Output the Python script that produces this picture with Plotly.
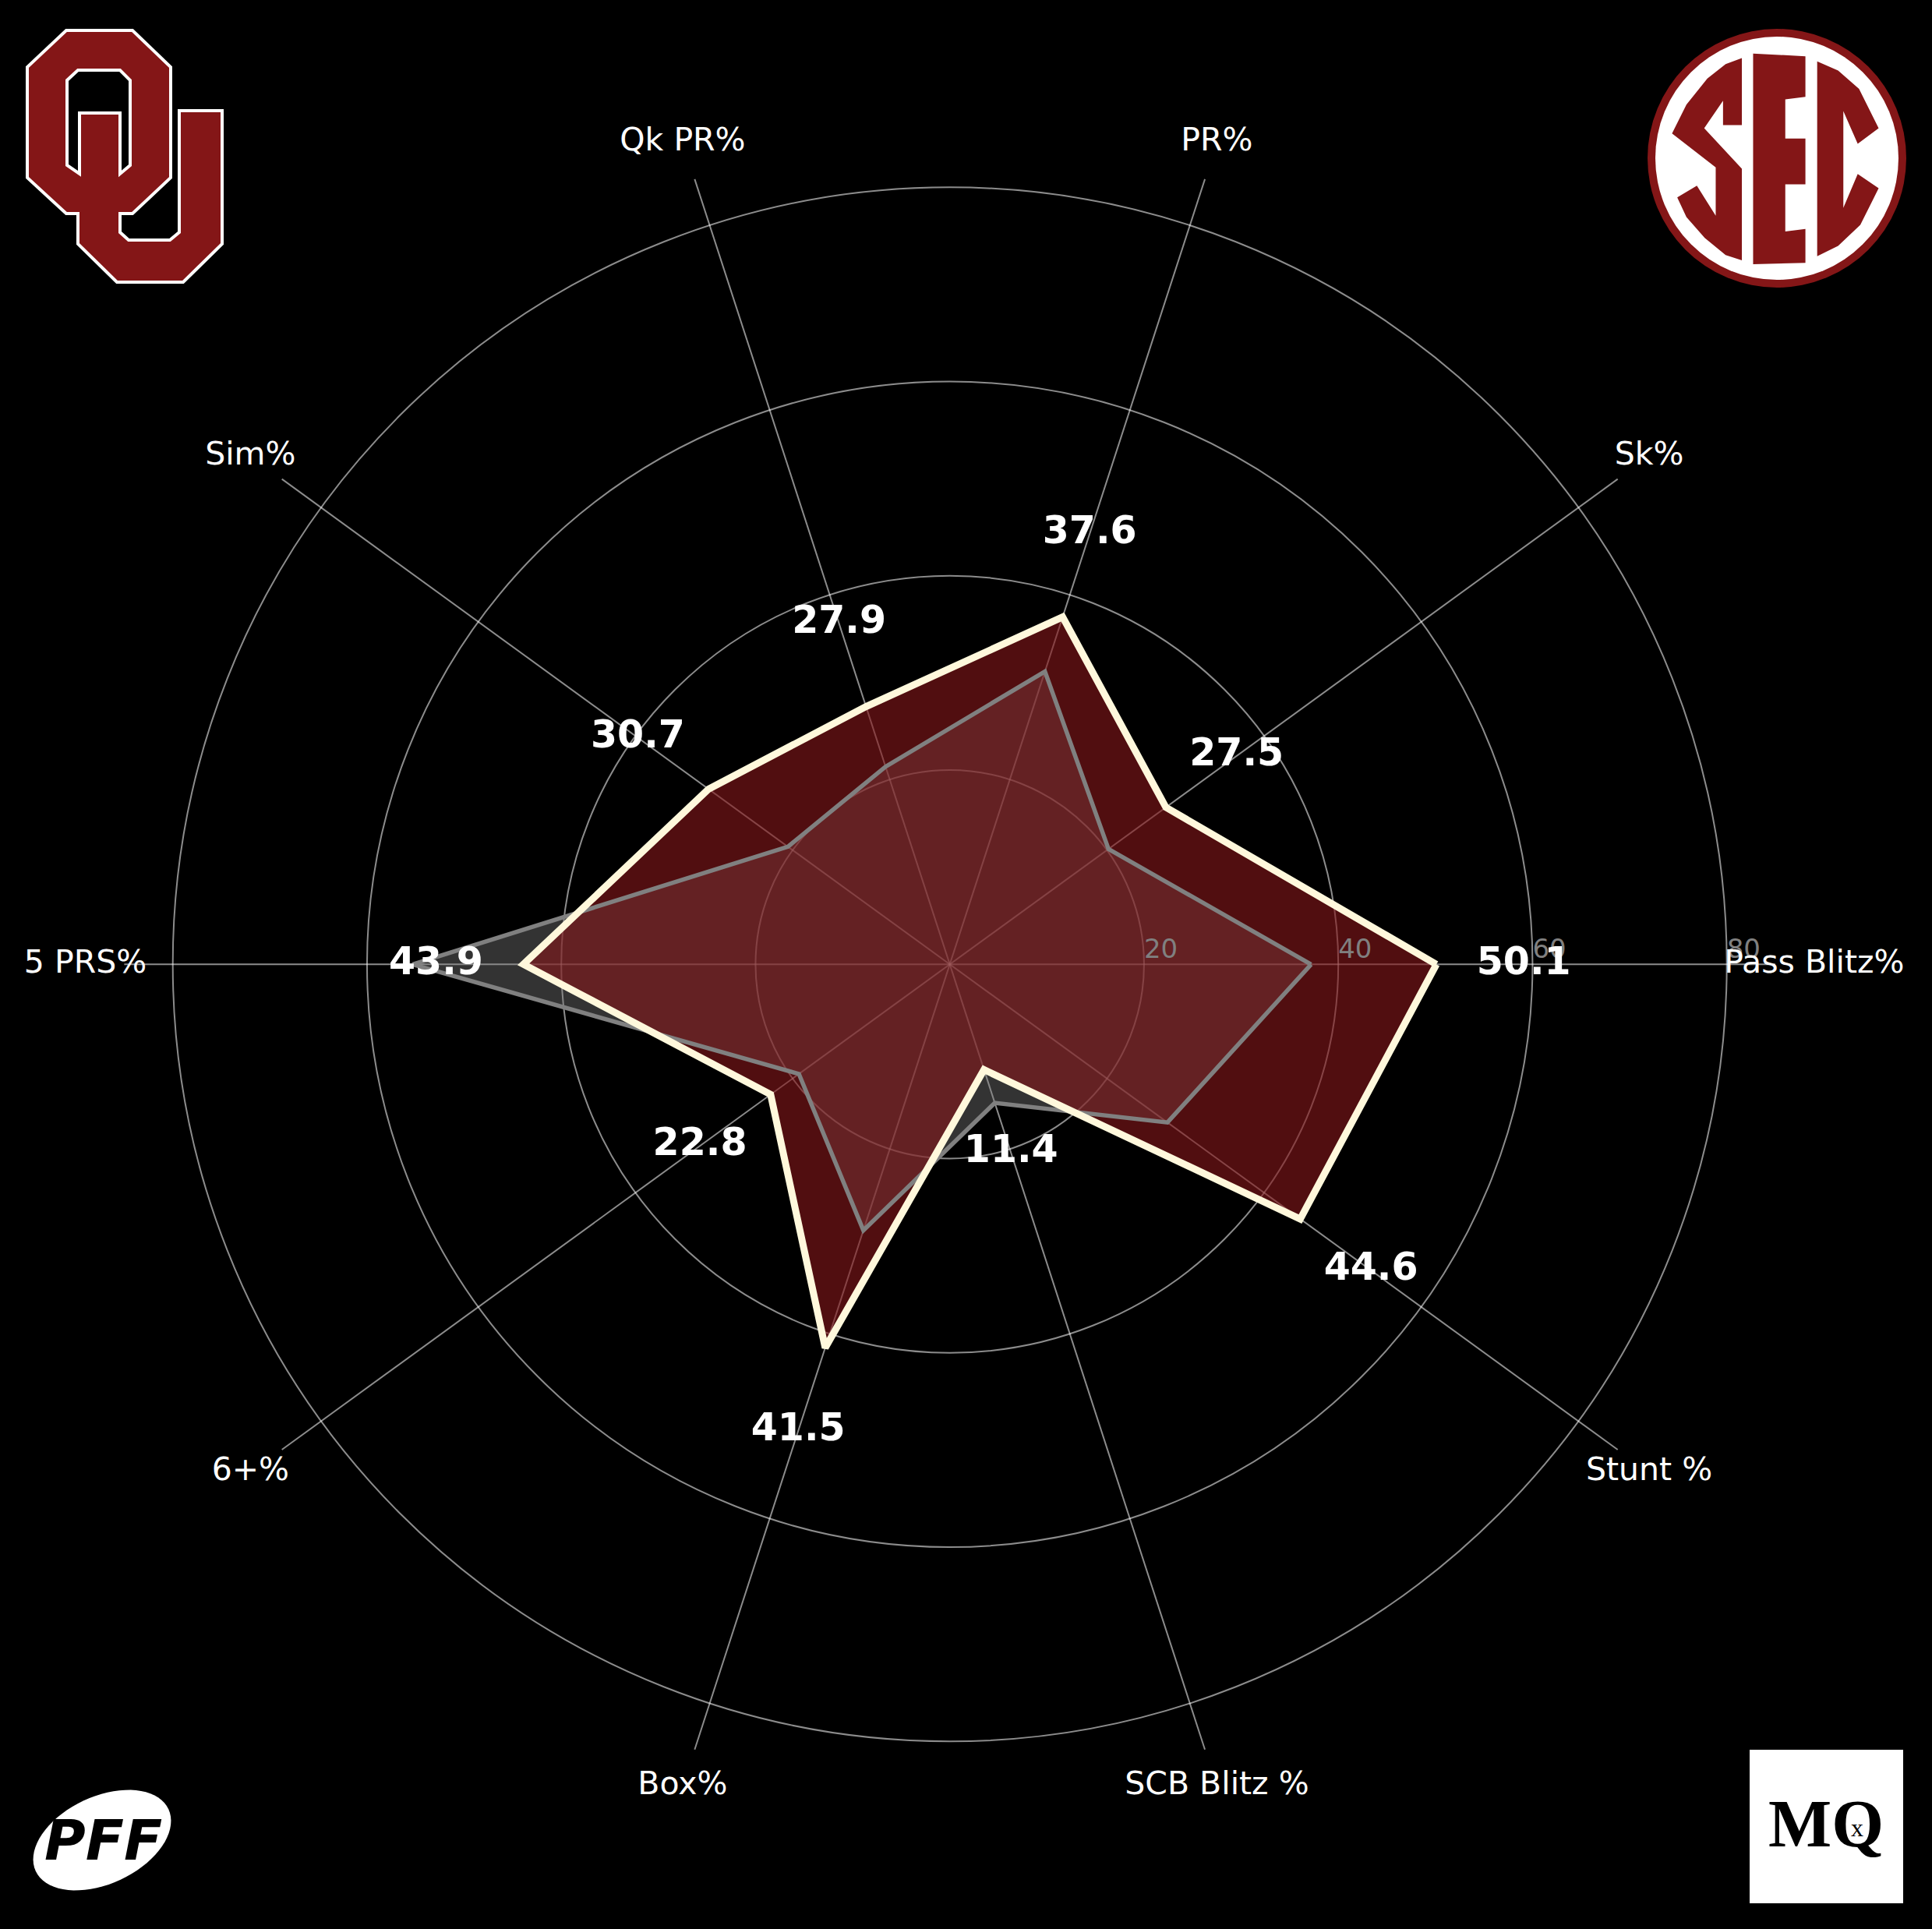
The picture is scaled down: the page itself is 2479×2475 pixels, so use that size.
import math
import plotly.graph_objects as go

W, H = 2479, 2475

categories = ["Pass Blitz%", "Sk%", "PR%", "Qk PR%", "Sim%", "5 PRS%",
              "6+%", "Box%", "SCB Blitz %", "Stunt %"]
ou_values = [50.1, 27.5, 37.6, 27.9, 30.7, 43.9, 22.8, 41.5, 11.4, 44.6]
sec_values = [37.2, 20.2, 31.7, 21.4, 20.6, 55.3, 19.2, 28.8, 15.0, 27.7]
radial_ticks = [20, 40, 60, 80]
radial_tick_labels = ["20", "40", "60", "80"]

R_MAX = 85        # radial extent of the grid polar
R_MAX_TOP = 95    # radial extent of the overlay polar (same scale, larger frame)
LABEL_R = 89
VALUE_OFFSET = 9

OU_RED = "#841617"
CREAM = "#FFF8DC"
GRID = "rgba(255,255,255,0.55)"


def px(x, y):
    return x / W, 1 - y / H


def closed(vals):
    return list(vals) + [vals[0]]


cats_closed = closed(categories)

fig = go.Figure()

# --- fills (polar 1, grid drawn above) ---
fig.add_trace(go.Scatterpolar(
    r=closed(sec_values), theta=cats_closed, mode="lines", fill="toself",
    fillcolor="rgba(128,128,128,0.4)", line=dict(width=0, color="rgba(0,0,0,0)"),
    hoverinfo="skip", showlegend=False, subplot="polar"))
fig.add_trace(go.Scatterpolar(
    r=closed(ou_values), theta=cats_closed, mode="lines", fill="toself",
    fillcolor="rgba(132,23,26,0.61)", line=dict(width=0, color="rgba(0,0,0,0)"),
    hoverinfo="skip", showlegend=False, subplot="polar"))

# --- lines and text (polar 2, on top) ---
fig.add_trace(go.Scatterpolar(
    r=radial_ticks, theta=[categories[0]] * len(radial_ticks), mode="text",
    text=radial_tick_labels, textposition="top right",
    textfont=dict(family="DejaVu Sans", size=34, color="#808080"),
    hoverinfo="skip", showlegend=False, subplot="polar2", cliponaxis=False))
fig.add_trace(go.Scatterpolar(
    r=closed(sec_values), theta=cats_closed, mode="lines",
    line=dict(width=5.5, color="#808080"),
    hoverinfo="skip", showlegend=False, subplot="polar2"))
fig.add_trace(go.Scatterpolar(
    r=closed(ou_values), theta=cats_closed, mode="lines",
    line=dict(width=9, color=CREAM),
    hoverinfo="skip", showlegend=False, subplot="polar2"))
fig.add_trace(go.Scatterpolar(
    r=[v + VALUE_OFFSET for v in ou_values], theta=categories, mode="text",
    text=[f"{v:.1f}" for v in ou_values], textposition="middle center",
    textfont=dict(family="DejaVu Sans", size=49, color="white", weight="bold"),
    hoverinfo="skip", showlegend=False, subplot="polar2", cliponaxis=False))
fig.add_trace(go.Scatterpolar(
    r=[LABEL_R] * len(categories), theta=categories, mode="text",
    text=categories, textposition="middle center",
    textfont=dict(family="DejaVu Sans", size=41, color="white"),
    hoverinfo="skip", showlegend=False, subplot="polar2", cliponaxis=False))

cx, cy = 1218.7, 1237.3
scale = 997 / 80.0
rad1 = scale * R_MAX
rad2 = scale * R_MAX_TOP
dom1 = dict(x=[(cx - rad1) / W, (cx + rad1) / W], y=[1 - (cy + rad1) / H, 1 - (cy - rad1) / H])
dom2 = dict(x=[(cx - rad2) / W, (cx + rad2) / W], y=[1 - (cy + rad2) / H, 1 - (cy - rad2) / H])

common_ang = dict(type="category", categoryorder="array", categoryarray=categories,
                  rotation=0, direction="counterclockwise")

fig.update_layout(
    width=W, height=H,
    margin=dict(l=0, r=0, t=0, b=0),
    paper_bgcolor="black", plot_bgcolor="black",
    showlegend=False,
    polar=dict(
        domain=dom1,
        bgcolor="black",
        radialaxis=dict(range=[0, R_MAX], tickvals=radial_ticks, showticklabels=False,
                        ticks="", showline=False, gridcolor=GRID, gridwidth=1.6,
                        layer="above traces"),
        angularaxis=dict(**common_ang, showticklabels=False, ticks="", showline=False,
                         gridcolor=GRID, gridwidth=1.6, layer="above traces"),
    ),
    polar2=dict(
        domain=dom2,
        bgcolor="rgba(0,0,0,0)",
        radialaxis=dict(range=[0, R_MAX_TOP], visible=False, showgrid=False),
        angularaxis=dict(**common_ang, visible=False, showgrid=False),
    ),
)

shapes = []

# ---- OU logo ----
ou_outer = [(85, 39), (170, 39), (219, 86), (219, 228), (170, 274), (154, 274),
            (154, 298), (165, 308), (218, 308), (230, 298), (230, 142), (285, 142),
            (285, 313), (235, 362), (150, 362), (100, 313), (100, 274), (85, 274),
            (35, 228), (35, 86)]
ou_hole = [(86, 103), (100, 90), (154, 90), (167, 103), (167, 212), (154, 223),
           (154, 145), (102, 145), (102, 223), (86, 212)]


def path_of(pts):
    s = ""
    for i, (x, y) in enumerate(pts):
        xp, yp = px(x, y)
        s += ("M" if i == 0 else "L") + f"{xp:.5f},{yp:.5f} "
    return s + "Z"


shapes.append(dict(type="path", xref="paper", yref="paper", path=path_of(ou_outer),
                   fillcolor=OU_RED, line=dict(color="white", width=4)))
shapes.append(dict(type="path", xref="paper", yref="paper", path=path_of(ou_hole),
                   fillcolor="black", line=dict(color="white", width=4)))

# ---- SEC logo ----
scx, scy = 2280, 203
for rr, col in [(166, "#841617"), (156, "white")]:
    x0, y0 = px(scx - rr, scy + rr)
    x1, y1 = px(scx + rr, scy - rr)
    shapes.append(dict(type="circle", xref="paper", yref="paper", x0=x0, y0=y0,
                       x1=x1, y1=y1, fillcolor=col, line=dict(width=0)))


def sec_pts(pts):
    return [(2080 + X / 2.98, Y / 2.98) for X, Y in pts]


S_pts = [(462, 222), (462, 478), (390, 478), (390, 385), (318, 490), (462, 645),
         (462, 995), (400, 975), (320, 910), (250, 830), (215, 755), (290, 710),
         (362, 825), (362, 640), (195, 510), (250, 400), (330, 300), (400, 245)]
E_pts = [(505, 205), (705, 215), (705, 370), (628, 380), (628, 530), (705, 530),
         (705, 705), (628, 705), (628, 885), (705, 875), (705, 1005), (505, 1010)]
C_pts = [(750, 235), (830, 270), (910, 340), (985, 490), (905, 550), (850, 425),
         (850, 795), (905, 665), (985, 720), (915, 860), (830, 940), (750, 980)]
for pts in (S_pts, E_pts, C_pts):
    shapes.append(dict(type="path", xref="paper", yref="paper",
                       path=path_of(sec_pts(pts)), fillcolor="#841617",
                       line=dict(width=0)))

# ---- PFF logo (football shape) ----
ecx, ecy, ea, eb, th = 131, 2361, 94, 56, math.radians(25)
ell = []
for k in range(72):
    t = 2 * math.pi * k / 72
    ex, ey = ea * math.cos(t), eb * math.sin(t)
    ell.append((ecx + ex * math.cos(th) + ey * math.sin(th),
                ecy - ex * math.sin(th) + ey * math.cos(th)))
shapes.append(dict(type="path", xref="paper", yref="paper", path=path_of(ell),
                   fillcolor="white", line=dict(width=0)))

# ---- MQ logo ----
x0, y0 = px(2245, 2442)
x1, y1 = px(2442, 2245)
shapes.append(dict(type="rect", xref="paper", yref="paper", x0=x0, y0=y0, x1=x1, y1=y1,
                   fillcolor="white", line=dict(width=0)))

annotations = []
ax, ay = px(132, 2361)
annotations.append(dict(x=ax, y=ay, xref="paper", yref="paper", text="PFF",
                        showarrow=False, xanchor="center", yanchor="middle",
                        font=dict(family="DejaVu Sans", size=72, color="black",
                                  weight="bold", style="italic")))
ax, ay = px(2343, 2340)
annotations.append(dict(x=ax, y=ay, xref="paper", yref="paper", text="MQ",
                        showarrow=False, xanchor="center", yanchor="middle",
                        font=dict(family="Liberation Serif", size=86, color="black",
                                  weight="bold")))
ax, ay = px(2383, 2345)
annotations.append(dict(x=ax, y=ay, xref="paper", yref="paper", text="x",
                        showarrow=False, xanchor="center", yanchor="middle",
                        font=dict(family="Liberation Serif", size=32, color="black")))

fig.update_layout(shapes=shapes, annotations=annotations)

fig.write_html("out.html",
               config={"displayModeBar": False},
               post_script="document.body.style.margin='0';"
                           "document.body.style.background='black';")
